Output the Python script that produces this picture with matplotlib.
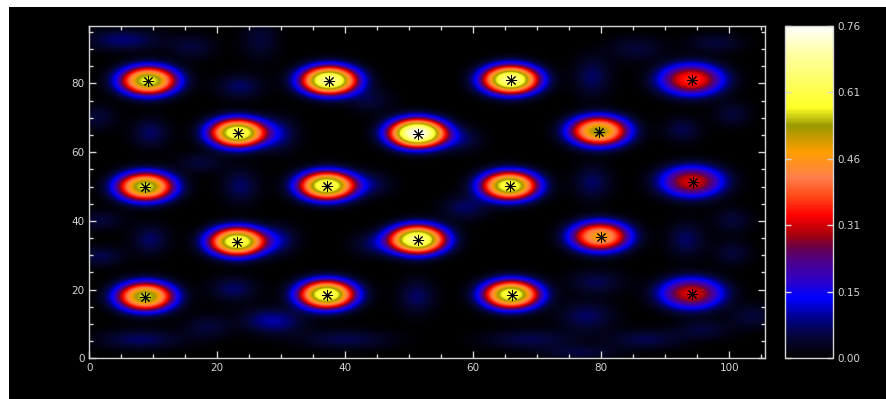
import numpy as np
import matplotlib
matplotlib.use("Agg")
import matplotlib.pyplot as plt
from matplotlib.colors import LinearSegmentedColormap
from matplotlib.patches import Rectangle
from matplotlib.ticker import MultipleLocator

# ---------------- data ----------------
# peak centres, heights and widths (data units)
peak_x = [9.2, 37.5, 65.9, 94.2,
          23.2, 51.3, 79.7,
          8.7, 37.1, 65.7, 94.3,
          23.1, 51.3, 79.9,
          8.7, 37.1, 66.0, 94.2]
peak_y = [80.7, 80.8, 81.0, 81.0,
          65.5, 65.4, 66.0,
          49.8, 50.1, 50.1, 51.3,
          33.8, 34.4, 35.3,
          17.8, 18.4, 18.4, 18.7]
peak_amp = [0.58, 0.68, 0.68, 0.35,
            0.63, 0.76, 0.53,
            0.57, 0.63, 0.61, 0.31,
            0.63, 0.67, 0.47,
            0.56, 0.63, 0.61, 0.31]
peak_sx = [3.4, 3.4, 3.4, 3.8,
           3.4, 3.4, 3.5,
           3.4, 3.4, 3.4, 3.8,
           3.4, 3.4, 3.5,
           3.4, 3.4, 3.4, 3.8]
peak_sy = [3.2, 3.2, 3.2, 3.5,
           3.2, 3.2, 3.3,
           3.2, 3.2, 3.2, 3.5,
           3.2, 3.2, 3.3,
           3.2, 3.2, 3.2, 3.5]
peak_power = 2.4  # flat-topped profile

# faint background blobs
blob_x = [5.3, 16.0, 23.5, 26.7, 9.5, 1.2, 17.3, 23.6, 1.7, 9.5, 1.7, 22.5,
          27.7, 18.4, 7.9, 29.8, 43.8, 58.0, 58.7, 29.8, 44.6, 43.8, 78.7,
          93.4, 79.3, 100.6, 100.6, 78.7, 85.6, 92.8, 98.0, 100.6, 51.2,
          77.8, 40.2, 68.9, 87.0, 96.0, 103.7, 29.8, 76.7]
blob_y = [92.6, 90.5, 79.0, 92.6, 65.5, 70.0, 56.8, 50.0, 40.0, 34.4, 29.5, 20.0,
          11.0, 9.0, 5.3, 65.0, 75.0, 63.5, 43.7, 34.4, 33.0, 50.5, 51.0,
          34.4, 22.0, 40.0, 30.5, 81.8, 90.0, 66.4, 91.7, 71.0, 17.8,
          12.0, 5.3, 5.3, 5.3, 8.2, 12.0, 10.3, 1.5]
blob_amp = [0.08, 0.05, 0.07, 0.05, 0.07, 0.05, 0.05, 0.07, 0.05, 0.07, 0.06, 0.07,
            0.06, 0.05, 0.07, 0.07, 0.05, 0.06, 0.07, 0.07, 0.06, 0.06, 0.07,
            0.07, 0.06, 0.05, 0.05, 0.07, 0.05, 0.06, 0.05, 0.05, 0.07,
            0.07, 0.06, 0.06, 0.06, 0.05, 0.05, 0.05, 0.05]
blob_sx = [4.0, 2.5, 2.5, 2.0, 2.0, 2.0, 2.5, 2.0, 2.5, 2.0, 2.5, 2.5,
           3.0, 2.5, 4.5, 2.0, 2.5, 2.5, 2.5, 2.0, 2.5, 2.5, 2.0,
           2.0, 3.0, 2.0, 2.0, 2.0, 3.0, 2.0, 3.0, 2.0, 2.0,
           3.0, 5.0, 5.0, 4.0, 3.0, 2.5, 3.0, 4.0]
blob_sy = [2.2, 2.5, 2.5, 4.0, 3.0, 2.5, 2.0, 3.5, 2.0, 3.0, 2.0, 2.5,
           2.5, 2.5, 2.0, 3.5, 2.5, 2.5, 2.5, 3.0, 2.5, 2.5, 3.5,
           3.5, 2.5, 2.5, 2.5, 4.0, 2.5, 2.5, 2.0, 2.5, 3.5,
           3.0, 2.0, 2.0, 2.0, 2.0, 2.5, 2.5, 1.5]

x_max, y_max = 105.6, 96.8
v_max = 0.763
cbar_ticks = [0.00, 0.15, 0.31, 0.46, 0.61, 0.76]

# colour table as in the colour bar
cmap_stops = [0.00, 0.06, 0.12, 0.18, 0.24, 0.29, 0.33, 0.37, 0.43, 0.49,
              0.545, 0.62, 0.70, 0.755, 0.92, 1.00]
cmap_colors = [(0, 0, 0), (0.02, 0.02, 0.2), (0, 0, 0.55), (0, 0, 1),
               (0.2, 0, 0.75), (0.3, 0, 0.55), (0.4, 0, 0.3), (0.65, 0, 0.05),
               (1, 0, 0), (1, 0.3, 0.1), (1, 0.5, 0.3), (1, 0.62, 0),
               (0.6, 0.6, 0), (1, 1, 0.15), (1, 1, 0.65), (1, 1, 1)]
cmap = LinearSegmentedColormap.from_list("idl", list(zip(cmap_stops, cmap_colors)))

# ---------------- build the field ----------------
gx = np.linspace(0, x_max, 424)
gy = np.linspace(0, y_max, 388)
X, Y = np.meshgrid(gx, gy)
field = np.zeros_like(X)
for cx, cy, amp, wx, wy in zip(peak_x, peak_y, peak_amp, peak_sx, peak_sy):
    r = np.sqrt((X - cx) ** 2 / wx ** 2 + (Y - cy) ** 2 / wy ** 2)
    field += amp * np.exp(-0.5 * r ** peak_power)
for cx, cy, amp, wx, wy in zip(blob_x, blob_y, blob_amp, blob_sx, blob_sy):
    field += amp * np.exp(-((X - cx) ** 2 / (2 * wx ** 2) + (Y - cy) ** 2 / (2 * wy ** 2)))

# ---------------- plot ----------------
fg = "#d4d4d4"
fig = plt.figure(figsize=(8.87, 3.99), dpi=100, facecolor="white")
fig.patches.append(Rectangle((9 / 887, 0), 1, 1 - 7 / 399, transform=fig.transFigure,
                             facecolor="black", edgecolor="none", zorder=-10))

ax = fig.add_axes([89.3 / 887, 1 - 358.3 / 399, (765 - 89.3) / 887, (358.3 - 25.7) / 399])
ax.set_facecolor("black")
im = ax.imshow(field, origin="lower", extent=[0, x_max, 0, y_max], cmap=cmap,
               vmin=0, vmax=v_max, aspect="auto", interpolation="bilinear")
ax.plot(peak_x, peak_y, linestyle="none", marker=(8, 2, 0), markersize=8,
        color="black", markeredgewidth=0.7)
ax.set_xlim(0, x_max)
ax.set_ylim(0, y_max)
ax.xaxis.set_major_locator(MultipleLocator(20))
ax.xaxis.set_minor_locator(MultipleLocator(5))
ax.yaxis.set_major_locator(MultipleLocator(20))
ax.yaxis.set_minor_locator(MultipleLocator(5))
ax.tick_params(which="both", direction="in", top=True, right=True, color=fg,
               labelcolor=fg, labelsize=7.5)
ax.tick_params(which="major", length=5, width=1)
ax.tick_params(which="minor", length=3, width=1)
for sp in ax.spines.values():
    sp.set_color(fg)
    sp.set_linewidth(1)

cax = fig.add_axes([785 / 887, 1 - 358.3 / 399, (832.7 - 785) / 887, (358.3 - 25.7) / 399])
cb = fig.colorbar(im, cax=cax)
cb.set_ticks(np.linspace(0, v_max, 6))
cb.set_ticklabels(["%.2f" % t for t in cbar_ticks])
cax.tick_params(direction="in", left=True, right=True, color=fg, labelcolor=fg,
                labelsize=7.5, length=4, width=1)
cb.outline.set_edgecolor(fg)
cb.outline.set_linewidth(1)

fig.savefig("out.png", dpi=100, facecolor=fig.get_facecolor())
